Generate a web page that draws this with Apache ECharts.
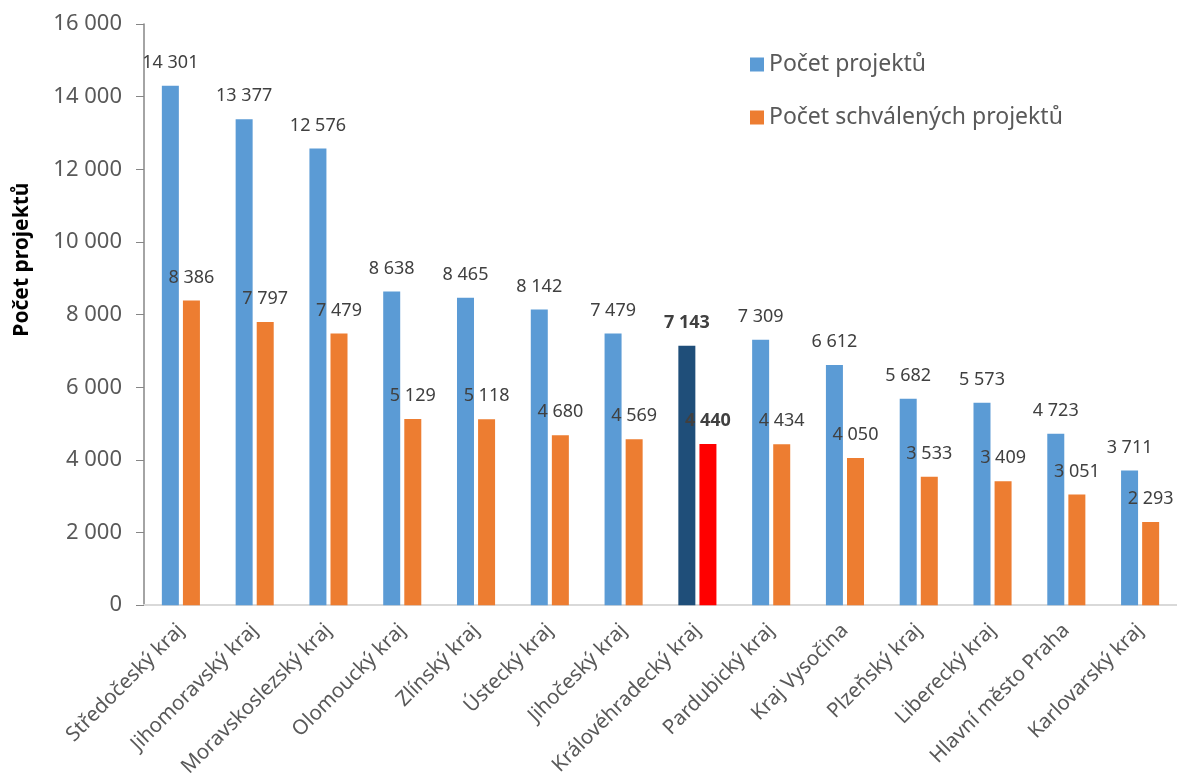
<!DOCTYPE html>
<html>
<head>
<meta charset="utf-8">
<script src="https://cdn.jsdelivr.net/npm/echarts@6/dist/echarts.min.js"></script>
<style>
html,body{margin:0;padding:0;background:#fff;}
#c{width:1177px;height:780px;}
</style>
</head>
<body>
<div id="c"></div>
<script>
const categories = ["Středočeský kraj","Jihomoravský kraj","Moravskoslezský kraj","Olomoucký kraj","Zlínský kraj","Ústecký kraj","Jihočeský kraj","Královéhradecký kraj","Pardubický kraj","Kraj Vysočina","Plzeňský kraj","Liberecký kraj","Hlavní město Praha","Karlovarský kraj"];
const projects = [14301,13377,12576,8638,8465,8142,7479,7143,7309,6612,5682,5573,4723,3711];
const approved = [8386,7797,7479,5129,5118,4680,4569,4440,4434,4050,3533,3409,3051,2293];
const highlightIndex = 7;
const seriesNames = ["Počet projektů","Počet schválených projektů"];
const yTitle = "Počet projektů";

const fmt = v => String(v).replace(/\B(?=(\d{3})+(?!\d))/g, ' ');
const FONT = "'Noto Sans', sans-serif";

function build(values, highlightColor) {
  return values.map((v, i) => i === highlightIndex
    ? { value: v, itemStyle: { color: highlightColor }, label: { fontWeight: 'bold' } }
    : v);
}

const chart = echarts.init(document.getElementById('c'));
chart.setOption({
  animation: false,
  textStyle: { fontFamily: FONT },
  grid: { left: 144, right: 0, top: 24, bottom: 173 },
  legend: {
    orient: 'vertical', left: 745, top: 48, itemGap: 30,
    itemWidth: 14, itemHeight: 14, icon: 'rect',
    textStyle: { fontSize: 23, color: '#595959', fontFamily: FONT }
  },
  xAxis: {
    type: 'category', data: categories,
    axisLine: { lineStyle: { color: '#d9d9d9', width: 2 } },
    axisTick: { show: false },
    axisLabel: { rotate: 45, interval: 0, margin: 22, fontSize: 20.5, color: '#595959', fontFamily: FONT }
  },
  yAxis: {
    type: 'value', min: 0, max: 16000, interval: 2000,
    name: yTitle, nameLocation: 'middle', nameGap: 111,
    nameTextStyle: { fontSize: 21, fontWeight: 'bold', color: '#000', fontFamily: FONT, padding: [0, 0, 0, 110] },
    axisLine: { show: true, lineStyle: { color: '#868686', width: 1.5 } },
    axisTick: { show: true, length: 8, lineStyle: { color: '#868686' } },
    splitLine: { show: false },
    axisLabel: { margin: 22, fontSize: 22, color: '#595959', fontFamily: FONT, formatter: fmt }
  },
  series: [
    {
      name: seriesNames[0], type: 'bar', data: build(projects, '#1F4E79'),
      barWidth: 17, barGap: '24%',
      itemStyle: { color: '#5B9BD5' },
      label: { show: true, position: 'top', distance: 14, fontSize: 18, color: '#404040', fontFamily: FONT, formatter: p => fmt(p.value) }
    },
    {
      name: seriesNames[1], type: 'bar', data: build(approved, '#FF0000'),
      barWidth: 17,
      itemStyle: { color: '#ED7D31' },
      label: { show: true, position: 'top', distance: 14, fontSize: 18, color: '#404040', fontFamily: FONT, formatter: p => fmt(p.value) }
    }
  ]
});
</script>
</body>
</html>
